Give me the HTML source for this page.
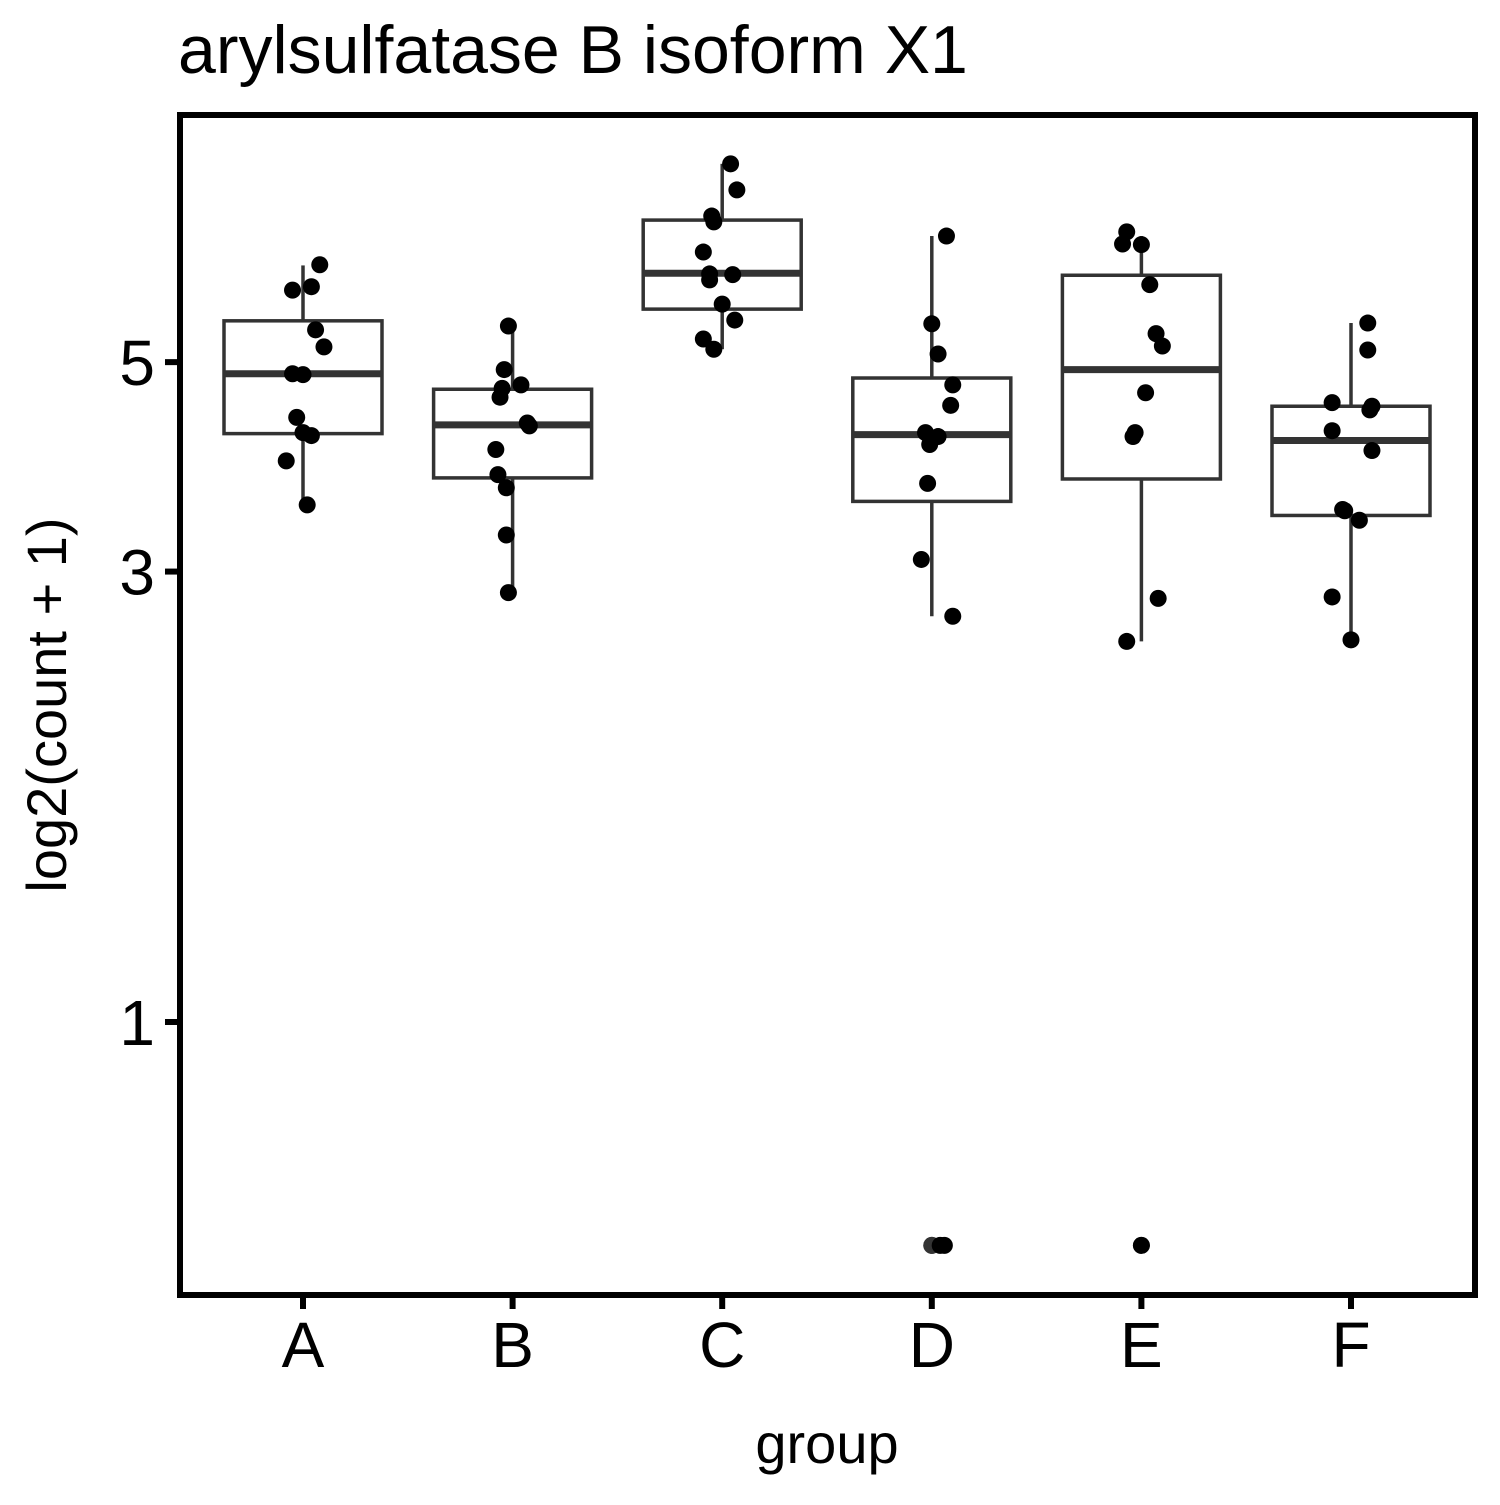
<!DOCTYPE html>
<html><head><meta charset="utf-8"><style>
body{margin:0;background:#fff}
svg text{font-family:"Liberation Sans",Arial,sans-serif}
</style></head><body>
<svg id="chart" width="1500" height="1500" xmlns="http://www.w3.org/2000/svg">
<rect width="1500" height="1500" fill="#fff"/>
<text x="178" y="73" font-size="68">arylsulfatase B isoform X1</text>
<g id="marks"></g>
<rect x="180" y="115" width="1295" height="1180" fill="none" stroke="#000" stroke-width="6"/>
<g id="axes"></g>
<text x="827" y="1463" font-size="56" text-anchor="middle">group</text>
<text transform="translate(66,705) rotate(-90)" font-size="56" text-anchor="middle">log2(count + 1)</text>
</svg>
<script>
const categories=["A","B","C","D","E","F"];
const q1=[4.20,3.77,5.69,3.56,3.76,3.44];
const medians=[4.86,4.29,6.21,4.19,4.91,4.13];
const q3=[5.53,4.68,7.07,4.81,6.18,4.49];
const whiskerLow=[3.53,2.85,5.16,2.69,2.53,2.54];
const whiskerHigh=[6.33,5.46,8.11,6.80,6.80,5.50];
const pointsA=[6.34,6.01,5.96,5.41,5.19,4.86,4.85,4.37,4.21,4.18,3.93,3.53];
const pointsB=[5.46,4.91,4.73,4.69,4.59,4.31,4.28,4.04,3.80,3.68,3.28,2.85];
const pointsC=[8.11,7.61,7.14,7.04,6.54,6.20,6.19,6.11,5.76,5.54,5.29,5.16];
const pointsD=[6.80,5.49,5.10,4.73,4.50,4.21,4.17,4.09,3.72,3.09,2.69,0.58,0.58];
const pointsE=[6.87,6.67,6.66,6.04,5.36,5.20,4.64,4.21,4.17,2.81,2.53,0.58];
const pointsF=[5.50,5.15,4.53,4.49,4.45,4.23,4.03,3.49,3.48,3.40,2.82,2.54];
const jitterA=[0.08,0.04,-0.05,0.06,0.10,-0.05,0.0,-0.03,0.0,0.04,-0.08,0.02];
const jitterB=[-0.02,-0.04,0.04,-0.05,-0.06,0.07,0.08,-0.08,-0.07,-0.03,-0.03,-0.02];
const jitterC=[0.04,0.07,-0.05,-0.04,-0.09,-0.06,0.05,-0.06,0.0,0.06,-0.09,-0.04];
const jitterD=[0.07,0.0,0.03,0.1,0.09,-0.03,0.03,-0.01,-0.02,-0.05,0.1,0.06,0.04];
const jitterE=[-0.07,-0.09,0.0,0.04,0.07,0.1,0.02,-0.03,-0.04,0.08,-0.07,0.0];
const jitterF=[0.08,0.08,-0.09,0.1,0.09,-0.09,0.1,-0.04,-0.03,0.04,-0.09,0.0];
const points=[pointsA,pointsB,pointsC,pointsD,pointsE,pointsF];
const jitters=[jitterA,jitterB,jitterC,jitterD,jitterE,jitterF];
const yTicks=[1,3,5];
const NS="http://www.w3.org/2000/svg";
function xScale(i){return 303+i*209.6;}
function yScale(v){return 1022-410*Math.log(v);}
function mk(tag,attrs,parent){const e=document.createElementNS(NS,tag);for(const k in attrs)e.setAttribute(k,attrs[k]);parent.appendChild(e);return e;}
const marks=document.getElementById('marks');
const axes=document.getElementById('axes');
categories.forEach((c,i)=>{
  const x=xScale(i),hw=79;
  const g=mk('g',{},marks);
  
  
  mk('line',{x1:x,x2:x,y1:yScale(whiskerHigh[i]),y2:yScale(q3[i]),stroke:'#333','stroke-width':3.5},g);
  mk('line',{x1:x,x2:x,y1:yScale(q1[i]),y2:yScale(whiskerLow[i]),stroke:'#333','stroke-width':3.5},g);
  mk('rect',{x:x-hw,y:yScale(q3[i]),width:2*hw,height:yScale(q1[i])-yScale(q3[i]),fill:'#fff',stroke:'#333','stroke-width':3.5},g);
  mk('line',{x1:x-hw,x2:x+hw,y1:yScale(medians[i]),y2:yScale(medians[i]),stroke:'#333','stroke-width':7},g);
  points[i].forEach((v,j)=>{
    if(v<whiskerLow[i]){const o=mk('circle',{cx:x,cy:yScale(v),r:8.5,fill:'#333'},g);
      
      }
  });
  points[i].forEach((v,j)=>{
    const p=mk('circle',{cx:x+jitters[i][j]*209.6,cy:yScale(v),r:8.5,fill:'#000'},g);
    
    
  });
  const t=mk('line',{x1:x,x2:x,y1:1297,y2:1309,stroke:'#000','stroke-width':6},axes);
  
  
  const l=mk('text',{x:x,y:1367,'font-size':64,'text-anchor':'middle',fill:'#000'},axes);
  l.textContent=c;
  
  
});
yTicks.forEach(v=>{
  const y=yScale(v);
  const t=mk('line',{x1:165,x2:178,y1:y,y2:y,stroke:'#000','stroke-width':6},axes);
  
  
  const l=mk('text',{x:155,y:y+23,'font-size':64,'text-anchor':'end',fill:'#000'},axes);
  l.textContent=v;
  
  
});
</script>
</body></html>
